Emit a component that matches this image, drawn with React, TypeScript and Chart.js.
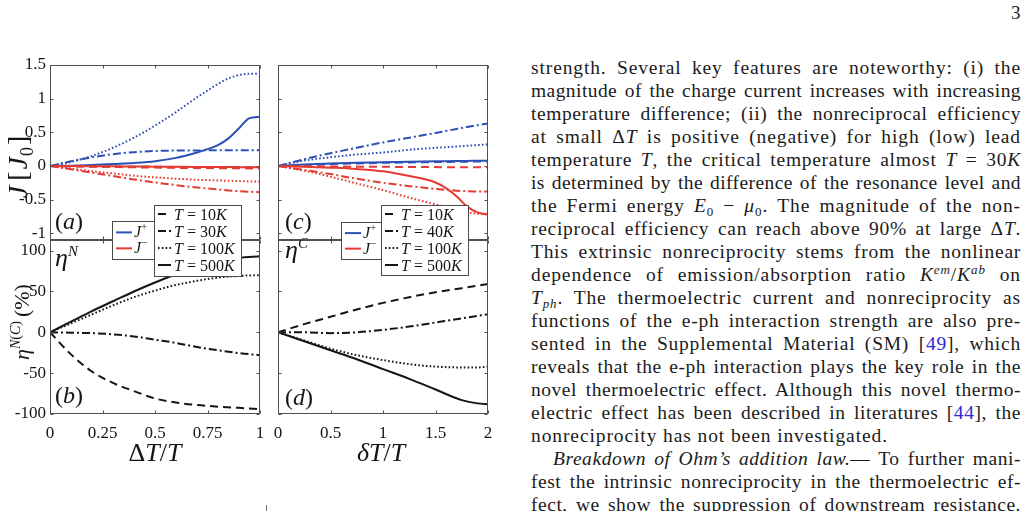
import React, { useEffect, useLayoutEffect, useRef } from "react";
import { Chart, registerables } from "chart.js";

Chart.register(...registerables);

const SERIF = '"Liberation Serif", "Times New Roman", serif';
const BLUE = "#2d50b5";
const RED = "#e63a30";
const INK = "#151515";
const FRAME = "#505050";

// ---- (a) charge current J (units of J0) vs ΔT/T ----
const DT_RATIO = [0, 0.1, 0.2, 0.3, 0.4, 0.5, 0.6, 0.7, 0.75, 0.8, 0.85, 0.9, 0.95, 1];
const JP_A_10K = [0, -0.004, -0.007, -0.009, -0.011, -0.013, -0.014, -0.015, -0.016, -0.016, -0.017, -0.017, -0.018, -0.018];
const JP_A_30K = [0, 0.07, 0.13, 0.175, 0.205, 0.222, 0.229, 0.231, 0.232, 0.232, 0.232, 0.232, 0.232, 0.232];
const JP_A_100K = [0, 0.06, 0.15, 0.27, 0.42, 0.6, 0.8, 1.02, 1.12, 1.22, 1.3, 1.35, 1.37, 1.37];
const JP_A_500K = [0, 0.005, 0.015, 0.03, 0.045, 0.07, 0.12, 0.2, 0.25, 0.31, 0.41, 0.56, 0.71, 0.73];
const JM_A_10K = [0, -0.005, -0.01, -0.015, -0.02, -0.024, -0.028, -0.031, -0.032, -0.033, -0.034, -0.035, -0.036, -0.036];
const JM_A_30K = [0, -0.05, -0.1, -0.15, -0.2, -0.245, -0.285, -0.32, -0.335, -0.35, -0.363, -0.374, -0.383, -0.39];
const JM_A_100K = [0, -0.04, -0.08, -0.11, -0.145, -0.17, -0.19, -0.205, -0.21, -0.215, -0.22, -0.225, -0.23, -0.233];
const JM_A_500K = [0, -0.002, -0.004, -0.006, -0.008, -0.01, -0.012, -0.014, -0.015, -0.016, -0.017, -0.018, -0.019, -0.02];

// ---- (b) nonreciprocal efficiency η^N (%) vs ΔT/T ----
const DT_RATIO_B = [0, 0.1, 0.2, 0.3, 0.4, 0.5, 0.6, 0.7, 0.8, 0.9, 1];
const ETA_N_10K = [0, -27, -48, -62, -72, -81, -86, -89, -91, -92.5, -94];
const ETA_N_30K = [0, -0.5, -1, -2.5, -5, -9, -13, -18, -22, -25.5, -28];
const ETA_N_100K = [0, 11, 22, 33, 43, 51, 58, 63, 67, 69, 70];
const ETA_N_500K = [0, 13, 26, 38, 50, 61, 71, 80, 87, 91, 93];

// ---- (c) charge current J vs δT/T ----
const dT_RATIO = [0, 0.25, 0.5, 0.75, 1, 1.25, 1.5, 1.6, 1.7, 1.8, 1.9, 2];
const JP_C_10K = [0, 0.015, 0.028, 0.038, 0.046, 0.052, 0.058, 0.06, 0.062, 0.064, 0.066, 0.068];
const JP_C_40K = [0, 0.1, 0.19, 0.27, 0.35, 0.42, 0.49, 0.52, 0.55, 0.58, 0.605, 0.63];
const JP_C_100K = [0, 0.08, 0.13, 0.17, 0.2, 0.24, 0.27, 0.28, 0.29, 0.3, 0.31, 0.32];
const JP_C_500K = [0, 0.02, 0.035, 0.047, 0.056, 0.063, 0.069, 0.071, 0.073, 0.075, 0.077, 0.079];
const JM_C_10K = [0, -0.004, -0.008, -0.011, -0.013, -0.015, -0.017, -0.018, -0.018, -0.019, -0.019, -0.02];
const JM_C_40K = [0, -0.06, -0.12, -0.19, -0.25, -0.3, -0.34, -0.355, -0.367, -0.375, -0.38, -0.38];
const JM_C_100K = [0, -0.07, -0.16, -0.26, -0.36, -0.47, -0.57, -0.61, -0.65, -0.69, -0.71, -0.72];
const JM_C_500K = [0, -0.01, -0.025, -0.045, -0.08, -0.15, -0.245, -0.33, -0.45, -0.6, -0.69, -0.72];

// ---- (d) nonreciprocal efficiency η^C (%) vs δT/T ----
const dT_RATIO_D = [0, 0.25, 0.5, 0.75, 1, 1.25, 1.5, 1.75, 1.9, 2];
const ETA_C_10K = [0, 10, 19, 28, 36, 43, 49, 54, 57, 59];
const ETA_C_40K = [0, 0, -1, 0, 3, 7, 12, 17, 20, 22];
const ETA_C_100K = [0, -10, -20, -28, -34, -39, -42, -43, -43, -42];
const ETA_C_500K = [0, -11, -22, -33, -45, -57, -70, -83, -87, -88];

// ---- ticks and legend entries ----
const X_TICKS_LEFT = [0, 0.25, 0.5, 0.75, 1];
const X_TICKS_RIGHT = [0, 0.5, 1, 1.5, 2];
const Y_TICKS_J = [-1, -0.5, 0, 0.5, 1, 1.5];
const Y_TICKS_ETA = [-100, -50, 0, 50, 100];
const TEMPS_LEFT = ["10", "30", "100", "500"];
const TEMPS_RIGHT = ["10", "40", "100", "500"];
const LINE_STYLES = ["dashed", "dashdot", "dotted", "solid"] as const;

type Style = (typeof LINE_STYLES)[number];
const DASH: Record<Style, number[]> = {
  dashed: [8, 5],
  dashdot: [8, 3, 2, 3],
  dotted: [1.6, 2.2],
  solid: [],
};

type Part = { t: string; it?: boolean; sz?: number; dy?: number; gap?: number };

function drawRich(ctx: CanvasRenderingContext2D, parts: Part[], x: number, y: number, size: number, align: "left" | "center" = "left") {
  const fontOf = (p: Part) => `${p.it ? "italic " : ""}${p.sz ?? size}px ${SERIF}`;
  let total = 0;
  const widths = parts.map((p) => {
    ctx.font = fontOf(p);
    const w = ctx.measureText(p.t).width + (p.gap ?? 0);
    total += w;
    return w;
  });
  let cx = align === "center" ? x - total / 2 : x;
  ctx.textAlign = "left";
  ctx.textBaseline = "alphabetic";
  parts.forEach((p, i) => {
    ctx.font = fontOf(p);
    ctx.fillText(p.t, cx, y + (p.dy ?? 0));
    cx += widths[i];
  });
  return total;
}

function sample(ctx: CanvasRenderingContext2D, x0: number, x1: number, y: number, color: string, style: Style) {
  ctx.save();
  ctx.strokeStyle = color;
  ctx.lineWidth = 2;
  ctx.setLineDash(DASH[style]);
  ctx.beginPath();
  ctx.moveTo(x0, y);
  ctx.lineTo(x1, y);
  ctx.stroke();
  ctx.restore();
}

function legendBox(ctx: CanvasRenderingContext2D, x: number, y: number, w: number, h: number) {
  ctx.save();
  ctx.fillStyle = "#ffffff";
  ctx.fillRect(x, y, w, h);
  ctx.strokeStyle = "#4a4a4a";
  ctx.lineWidth = 1;
  ctx.strokeRect(x + 0.5, y + 0.5, w, h);
  ctx.restore();
}

function currentLegend(ctx: CanvasRenderingContext2D, x: number, y: number, w: number, h: number) {
  legendBox(ctx, x, y, w, h);
  const rows: [string, string][] = [[BLUE, "+"], [RED, "−"]];
  rows.forEach(([color, sign], i) => {
    const ry = y + h * (i === 0 ? 0.3 : 0.72);
    sample(ctx, x + 4, x + 20, ry, color, "solid");
    ctx.fillStyle = INK;
    drawRich(ctx, [{ t: "J", it: true }, { t: sign, sz: 11, dy: -7 }], x + 22, ry + 5, 16);
  });
}

function tempLegend(ctx: CanvasRenderingContext2D, x: number, y: number, w: number, h: number, temps: string[]) {
  legendBox(ctx, x, y, w, h);
  const rowY = [9, 26, 43, 60];
  temps.forEach((t, i) => {
    const ry = y + rowY[i];
    sample(ctx, x + 4, x + 17, ry, INK, LINE_STYLES[i]);
    ctx.fillStyle = INK;
    drawRich(ctx, [{ t: "T", it: true }, { t: " = " + t }, { t: "K", it: true }], x + 20, ry + 5.5, 16);
  });
}

type Series = { y: number[]; color: string; style: Style };
type Spec = {
  left: number;
  top: number;
  width: number;
  height: number;
  pad: { top: number; right: number; bottom: number; left: number };
  x: number[];
  xMax: number;
  xTicks: number[];
  showX: boolean;
  yMin: number;
  yMax: number;
  yTicks: number[];
  showY: boolean;
  series: Series[];
  decor: (ctx: CanvasRenderingContext2D) => void;
};

const AXIS_W = 50;
const AXIS_H = 56;

function Panel({ spec }: { spec: Spec }) {
  const ref = useRef<HTMLCanvasElement | null>(null);
  useEffect(() => {
    if (!ref.current) return;
    const tickFont = { family: SERIF, size: 17 };
    const frame = {
      id: "frame",
      afterDraw(chart: any) {
        const { ctx, chartArea: a, scales } = chart;
        ctx.save();
        ctx.strokeStyle = FRAME;
        ctx.lineWidth = 1;
        const l = Math.round(a.left) + 0.5;
        const r = Math.round(a.right) - 0.5;
        const t = Math.round(a.top) + 0.5;
        const b = Math.round(a.bottom) - 0.5;
        ctx.strokeRect(l, t, r - l, b - t);
        ctx.beginPath();
        spec.xTicks.forEach((v) => {
          const px = Math.round(scales.x.getPixelForValue(v)) + 0.5;
          ctx.moveTo(px, b);
          ctx.lineTo(px, b - 3);
          ctx.moveTo(px, t);
          ctx.lineTo(px, t + 3);
        });
        spec.yTicks.forEach((v) => {
          const py = Math.round(scales.y.getPixelForValue(v)) + 0.5;
          ctx.moveTo(l, py);
          ctx.lineTo(l + 3, py);
          ctx.moveTo(r, py);
          ctx.lineTo(r - 3, py);
        });
        ctx.stroke();
        ctx.restore();
        ctx.save();
        ctx.translate(-spec.left, -spec.top);
        spec.decor(ctx);
        ctx.restore();
      },
    };
    const chart = new Chart(ref.current, {
      type: "line",
      data: {
        datasets: spec.series.map((s) => ({
          data: spec.x.map((xv, i) => ({ x: xv, y: s.y[i] })),
          borderColor: s.color,
          borderWidth: 2,
          borderDash: DASH[s.style],
          pointRadius: 0,
          fill: false,
          cubicInterpolationMode: "monotone" as const,
        })),
      },
      options: {
        animation: false,
        responsive: false,
        devicePixelRatio: 1,
        layout: { padding: spec.pad },
        plugins: { legend: { display: false }, tooltip: { enabled: false } },
        scales: {
          x: {
            type: "linear",
            min: 0,
            max: spec.xMax,
            display: spec.showX,
            grid: { display: false, drawTicks: false },
            border: { display: false },
            ticks: { font: tickFont, color: INK, padding: 9, callback: (v: any) => String(v) },
            afterBuildTicks: (s: any) => {
              s.ticks = spec.xTicks.map((v) => ({ value: v }));
            },
            afterFit: (s: any) => {
              if (spec.showX) s.height = AXIS_H;
              s.paddingLeft = 0;
              s.paddingRight = 0;
            },
          },
          y: {
            type: "linear",
            min: spec.yMin,
            max: spec.yMax,
            display: spec.showY,
            grid: { display: false, drawTicks: false },
            border: { display: false },
            ticks: { font: tickFont, color: INK, padding: 4, callback: (v: any) => String(v) },
            afterBuildTicks: (s: any) => {
              s.ticks = spec.yTicks.map((v) => ({ value: v }));
            },
            afterFit: (s: any) => {
              if (spec.showY) s.width = AXIS_W;
              s.paddingTop = 0;
              s.paddingBottom = 0;
            },
          },
        },
      },
      plugins: [frame],
    } as any);
    return () => chart.destroy();
  }, [spec]);
  return (
    <canvas
      ref={ref}
      width={spec.width}
      height={spec.height}
      style={{ position: "absolute", left: spec.left, top: spec.top, width: spec.width, height: spec.height }}
    />
  );
}

const series = (vals: number[][], color: string): Series[] =>
  vals.map((y, i) => ({ y, color, style: LINE_STYLES[i] }));

const SPEC_A: Spec = {
  left: 0, top: 55, width: 275, height: 230,
  pad: { top: 10, right: 15, bottom: 45, left: 0 },
  x: DT_RATIO, xMax: 1, xTicks: X_TICKS_LEFT, showX: false,
  yMin: -1.1, yMax: 1.5, yTicks: Y_TICKS_J, showY: true,
  series: [
    ...series([JM_A_10K, JM_A_30K, JM_A_100K, JM_A_500K], RED),
    ...series([JP_A_10K, JP_A_30K, JP_A_100K, JP_A_500K], BLUE),
  ],
  decor: (ctx) => {
    ctx.fillStyle = INK;
    ctx.save();
    ctx.translate(18, 167);
    ctx.rotate(-Math.PI / 2);
    drawRich(ctx, [
      { t: "J", it: true, gap: 5 },
      { t: "[", gap: 2 },
      { t: "J", it: true, gap: 1 },
      { t: "0", sz: 18, dy: 6, gap: 2 },
      { t: "]" },
    ], 0, 9, 28, "center");
    ctx.restore();
    drawRich(ctx, [{ t: "(" }, { t: "a", it: true }, { t: ")" }], 55, 229, 24);
    currentLegend(ctx, 112, 221, 42, 38);
    tempLegend(ctx, 154, 205, 87, 71, TEMPS_LEFT);
  },
};

const SPEC_B: Spec = {
  left: 0, top: 230, width: 275, height: 240,
  pad: { top: 10, right: 15, bottom: 0, left: 0 },
  x: DT_RATIO_B, xMax: 1, xTicks: X_TICKS_LEFT, showX: true,
  yMin: -100, yMax: 113, yTicks: Y_TICKS_ETA, showY: true,
  series: series([ETA_N_10K, ETA_N_30K, ETA_N_100K, ETA_N_500K], INK),
  decor: (ctx) => {
    ctx.fillStyle = INK;
    ctx.save();
    ctx.translate(22, 322);
    ctx.rotate(-Math.PI / 2);
    drawRich(ctx, [
      { t: "η", it: true },
      { t: "N", it: true, sz: 14, dy: -9 },
      { t: "(", sz: 14, dy: -9 },
      { t: "C", it: true, sz: 14, dy: -9 },
      { t: ")", sz: 14, dy: -9, gap: 4 },
      { t: "(%)" },
    ], 0, 7, 22, "center");
    ctx.restore();
    drawRich(ctx, [{ t: "η", it: true }, { t: "N", it: true, sz: 15, dy: -10 }], 55, 266, 26);
    drawRich(ctx, [{ t: "(" }, { t: "b", it: true }, { t: ")" }], 55, 403, 24);
    drawRich(ctx, [{ t: "Δ" }, { t: "T", it: true }, { t: "/" }, { t: "T", it: true }], 155, 461, 26, "center");
  },
};

const SPEC_C: Spec = {
  left: 268, top: 55, width: 230, height: 230,
  pad: { top: 10, right: 10, bottom: 45, left: 10 },
  x: dT_RATIO, xMax: 2, xTicks: X_TICKS_RIGHT, showX: false,
  yMin: -1.1, yMax: 1.5, yTicks: Y_TICKS_J, showY: false,
  series: [
    ...series([JM_C_10K, JM_C_40K, JM_C_100K, JM_C_500K], RED),
    ...series([JP_C_10K, JP_C_40K, JP_C_100K, JP_C_500K], BLUE),
  ],
  decor: (ctx) => {
    ctx.fillStyle = INK;
    drawRich(ctx, [{ t: "(" }, { t: "c", it: true }, { t: ")" }], 285, 229, 24);
    currentLegend(ctx, 341, 222, 41, 37);
    tempLegend(ctx, 381, 205, 87, 70, TEMPS_RIGHT);
  },
};

const SPEC_D: Spec = {
  left: 268, top: 230, width: 230, height: 240,
  pad: { top: 10, right: 10, bottom: 0, left: 10 },
  x: dT_RATIO_D, xMax: 2, xTicks: X_TICKS_RIGHT, showX: true,
  yMin: -100, yMax: 113, yTicks: Y_TICKS_ETA, showY: false,
  series: series([ETA_C_10K, ETA_C_40K, ETA_C_100K, ETA_C_500K], INK),
  decor: (ctx) => {
    ctx.fillStyle = INK;
    drawRich(ctx, [{ t: "η", it: true }, { t: "C", it: true, sz: 15, dy: -10 }], 285, 258, 26);
    drawRich(ctx, [{ t: "(" }, { t: "d", it: true }, { t: ")" }], 285, 405, 24);
    drawRich(ctx, [{ t: "δ", it: true }, { t: "T", it: true }, { t: "/" }, { t: "T", it: true }], 381, 461, 26, "center");
  },
};

const TEXT_LEFT = 531;
const TEXT_WIDTH = 490;
const FIRST_LINE_TOP = 55.5;
const LINE_PITCH = 23;

// One typeset line of the body column; spare width is shared between letter and word spacing.
function Line({ n, children, last, indent = 0 }: { n: number; children: React.ReactNode; last?: boolean; indent?: number }) {
  const box = useRef<HTMLDivElement | null>(null);
  const inner = useRef<HTMLSpanElement | null>(null);
  const width = TEXT_WIDTH - indent;
  useLayoutEffect(() => {
    const el = box.current;
    const span = inner.current;
    if (!el || !span) return;
    const natural = span.getBoundingClientRect().width;
    const count = (el.textContent || "").length;
    const spare = Math.max(0, width - natural);
    const ls = Math.min(0.9, (last ? spare : spare * 0.6) / count);
    el.style.letterSpacing = `${ls.toFixed(2)}px`;
    if (!last) el.style.textAlignLast = "justify";
  }, [width, last]);
  return (
    <div
      ref={box}
      style={{
        position: "absolute",
        left: TEXT_LEFT + indent,
        top: FIRST_LINE_TOP + n * LINE_PITCH,
        width,
        height: LINE_PITCH,
        whiteSpace: "nowrap",
        textAlign: "left",
        textAlignLast: "left",
        font: `19.5px ${SERIF}`,
        lineHeight: `${LINE_PITCH}px`,
        color: "#1b1b1b",
      }}
    >
      <span ref={inner}>{children}</span>
    </div>
  );
}

const cite = { color: "#2b2bd6" };
const Sub = ({ children, it }: { children: React.ReactNode; it?: boolean }) => (
  <span style={{ fontSize: "13px", position: "relative", top: "4px", fontStyle: it ? "italic" : "normal", lineHeight: 0 }}>{children}</span>
);
const Sup = ({ children }: { children: React.ReactNode }) => (
  <span style={{ fontSize: "13px", position: "relative", top: "-7px", fontStyle: "italic", lineHeight: 0 }}>{children}</span>
);

export default function App() {
  return (
    <div style={{ position: "absolute", left: 0, top: 0, width: 1029, height: 511, overflow: "hidden", background: "#fff" }}>
      <Panel spec={SPEC_B} />
      <Panel spec={SPEC_A} />
      <Panel spec={SPEC_D} />
      <Panel spec={SPEC_C} />
      <div style={{ position: "absolute", left: 266, top: 505, width: 1, height: 6, background: "#777" }} />
      <div style={{ position: "absolute", left: 1011, top: 2, font: `19px ${SERIF}`, color: "#1b1b1b" }}>3</div>
      <Line n={0}>strength. Several key features are noteworthy: (i) the</Line>
      <Line n={1}>magnitude of the charge current increases with increasing</Line>
      <Line n={2}>temperature difference; (ii) the nonreciprocal efficiency</Line>
      <Line n={3}>at small Δ<i>T</i> is positive (negative) for high (low) lead</Line>
      <Line n={4}>temperature <i>T</i>, the critical temperature almost <i>T</i> = 30<i>K</i></Line>
      <Line n={5}>is determined by the difference of the resonance level and</Line>
      <Line n={6}>the Fermi energy <i>E</i><Sub>0</Sub> − <i>μ</i><Sub>0</Sub>. The magnitude of the non-</Line>
      <Line n={7}>reciprocal efficiency can reach above 90% at large Δ<i>T</i>.</Line>
      <Line n={8}>This extrinsic nonreciprocity stems from the nonlinear</Line>
      <Line n={9}>dependence of emission/absorption ratio <i>K</i><Sup>em</Sup>/<i>K</i><Sup>ab</Sup> on</Line>
      <Line n={10}><i>T</i><Sub it>ph</Sub>. The thermoelectric current and nonreciprocity as</Line>
      <Line n={11}>functions of the e-ph interaction strength are also pre-</Line>
      <Line n={12}>sented in the Supplemental Material (SM) [<span style={cite}>49</span>], which</Line>
      <Line n={13}>reveals that the e-ph interaction plays the key role in the</Line>
      <Line n={14}>novel thermoelectric effect. Although this novel thermo-</Line>
      <Line n={15}>electric effect has been described in literatures [<span style={cite}>44</span>], the</Line>
      <Line n={16} last>nonreciprocity has not been investigated.</Line>
      <Line n={17} indent={22}><i>Breakdown of Ohm’s addition law.</i>— To further mani-</Line>
      <Line n={18}>fest the intrinsic nonreciprocity in the thermoelectric ef-</Line>
      <Line n={19}>fect, we show the suppression of downstream resistance.</Line>
    </div>
  );
}
